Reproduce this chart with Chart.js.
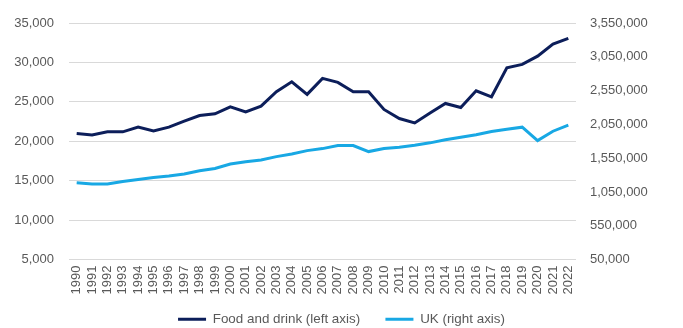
<!DOCTYPE html>
<html>
<head>
<meta charset="utf-8">
<script src="https://cdn.jsdelivr.net/npm/chart.js@4.4.1/dist/chart.umd.min.js"></script>
<style>
    html, body { margin: 0; padding: 0; background: #ffffff; }
    #wrap { width: 683px; height: 328px; }
</style>
</head>
<body>
<div id="wrap"><canvas id="chart"></canvas></div>
<script>
// Years on the x axis
const years = [
    "1990", "1991", "1992", "1993", "1994", "1995", "1996", "1997", "1998", "1999",
    "2000", "2001", "2002", "2003", "2004", "2005", "2006", "2007", "2008", "2009",
    "2010", "2011", "2012", "2013", "2014", "2015", "2016", "2017", "2018", "2019",
    "2020", "2021", "2022"
];

// Food and drink (left axis)
const foodDrink = [
    20980, 20800, 21200, 21200, 21800, 21300, 21800, 22550, 23270, 23480,
    24370, 23730, 24460, 26280, 27550, 25950, 27980, 27470, 26280, 26280,
    24040, 22890, 22330, 23600, 24800, 24290, 26410, 25640, 29330, 29750,
    30800, 32330, 33060
];

// UK (right axis)
const ukTotal = [
    1187000, 1168000, 1168000, 1206000, 1236000, 1266000, 1287000, 1316000, 1365000, 1399000,
    1465000, 1499000, 1524000, 1573000, 1613000, 1662000, 1692000, 1737000, 1737000, 1648000,
    1692000, 1712000, 1741000, 1777000, 1822000, 1860000, 1896000, 1945000, 1979000, 2009000,
    1811000, 1949000, 2039000
];

// Axis ranges
const leftTicks = { min: 5000, max: 35000, step: 5000 };
const rightTicks = { min: 50000, max: 3550000, step: 500000 };

const NAVY = "#0c1e5a";
const SKY = "#18a8e4";
const TEXT = "#595959";
const GRID = "#d9d9d9";

Chart.defaults.font.family = "'Liberation Sans', Arial, sans-serif";
Chart.defaults.font.size = 13;
Chart.defaults.color = TEXT;

// Legend entries: a bit of trailing space keeps the two items apart
// while the vertical padding of the legend stays small
function legendLabels(chart) {
    return chart.data.datasets.map((ds, i) => ({
        text: i === 0 ? ds.label + "      " : ds.label,
        strokeStyle: ds.borderColor,
        fillStyle: ds.borderColor,
        lineWidth: ds.borderWidth,
        pointStyle: "line",
        fontColor: TEXT,
        hidden: false,
        datasetIndex: i
    }));
}

const ctx = document.getElementById("chart").getContext("2d");

const myChart = new Chart(ctx, {
    type: "line",
    data: {
        labels: years,
        datasets: [{
            label: "Food and drink (left axis)",
            data: foodDrink,
            borderColor: NAVY,
            backgroundColor: NAVY,
            borderWidth: 3,
            pointRadius: 0,
            tension: 0,
            yAxisID: "y"
        }, {
            label: "UK (right axis)",
            data: ukTotal,
            borderColor: SKY,
            backgroundColor: SKY,
            borderWidth: 3,
            pointRadius: 0,
            tension: 0,
            yAxisID: "y1"
        }]
    },
    options: {
        responsive: true,
        maintainAspectRatio: false,
        animation: false,
        layout: {
            padding: { top: 23, left: 0, right: 0, bottom: -8 }
        },
        scales: {
            x: {
                offset: true,
                grid: { display: false, drawTicks: false },
                border: { display: false },
                ticks: {
                    autoSkip: false,
                    maxRotation: 90,
                    minRotation: 90,
                    padding: 6
                },
                afterFit: (scale) => { scale.height = 50; }
            },
            y: {
                position: "left",
                min: leftTicks.min,
                max: leftTicks.max,
                grid: { color: GRID, lineWidth: 1, drawTicks: false },
                border: { display: false },
                ticks: { stepSize: leftTicks.step, padding: 15 },
                afterFit: (scale) => { scale.width = 69; }
            },
            y1: {
                position: "right",
                min: rightTicks.min,
                max: rightTicks.max,
                grid: { drawOnChartArea: false, drawTicks: false },
                border: { display: false },
                ticks: { stepSize: rightTicks.step, padding: 14 },
                afterFit: (scale) => { scale.width = 107; }
            }
        },
        plugins: {
            legend: {
                position: "bottom",
                labels: {
                    usePointStyle: true,
                    pointStyle: "line",
                    pointStyleWidth: 28,
                    boxHeight: 13,
                    padding: 3,
                    color: TEXT,
                    font: { size: 13.4 },
                    generateLabels: legendLabels
                }
            },
            tooltip: { enabled: false }
        }
    }
});
</script>
</body>
</html>
